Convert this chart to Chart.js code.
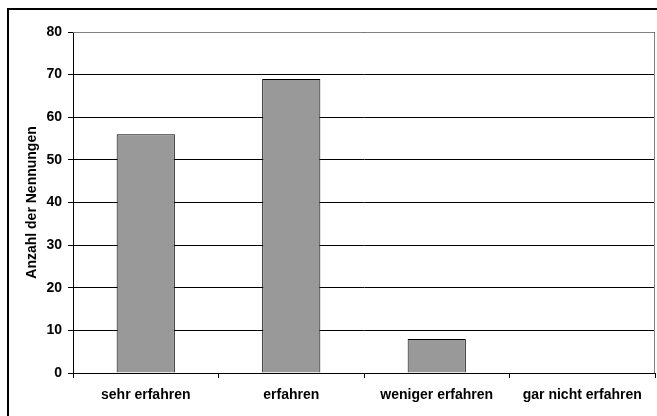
<!DOCTYPE html>
<html lang="de">
<head>
<meta charset="UTF-8">
<title>Anzahl der Nennungen</title>
<script src="https://cdn.jsdelivr.net/npm/chart.js"></script>
<style>
    html, body { margin: 0; padding: 0; background: #ffffff; overflow: hidden; }
    .frame {
        position: absolute;
        left: 7px; top: 8px;
        width: 700px; height: 460px;
        border-left: 2px solid #000;
        border-top: 2px solid #000;
        pointer-events: none;
    }
    .wrap { position: relative; width: 657px; height: 416px; }
</style>
</head>
<body>
<div class="wrap">
    <canvas id="chart" width="657" height="416"></canvas>
    <div class="frame"></div>
</div>
<script>
// Daten aus der Abbildung
const categories = ['sehr erfahren', 'erfahren', 'weniger erfahren', 'gar nicht erfahren'];
const counts = [56, 69, 8, 0];
const yTicks = [0, 10, 20, 30, 40, 50, 60, 70, 80];

const font = { family: 'Arial, "Liberation Sans", sans-serif', size: 14, weight: 'bold' };

// grauer Rahmen um die Zeichenfläche
const plotFrame = {
    id: 'plotFrame',
    beforeDatasetsDraw(chart) {
        const a = chart.chartArea, ctx = chart.ctx;
        ctx.save();
        ctx.strokeStyle = '#808080';
        ctx.lineWidth = 1;
        ctx.beginPath();
        ctx.moveTo(a.left, a.top + 0.5);
        ctx.lineTo(a.right - 0.5, a.top + 0.5);
        ctx.lineTo(a.right - 0.5, a.bottom);
        ctx.stroke();
        ctx.restore();
    }
};

new Chart(document.getElementById('chart').getContext('2d'), {
    type: 'bar',
    data: {
        labels: categories,
        datasets: [{
            data: counts,
            backgroundColor: '#999999',
            borderColor: '#000000',
            borderWidth: 1,
            barPercentage: 0.4,
            categoryPercentage: 1.0
        }]
    },
    options: {
        responsive: false,
        animation: false,
        layout: { padding: { left: 10, top: 32, right: 2, bottom: 0 } },
        plugins: {
            legend: { display: false },
            tooltip: { enabled: false }
        },
        scales: {
            x: {
                offset: true,
                grid: { display: true, offset: true, drawOnChartArea: false, color: '#000', tickLength: 5 },
                border: { color: '#000' },
                ticks: { color: '#000', font: font, padding: 9, maxRotation: 0 },
                afterFit(scale) { scale.height = 416 - 373; }
            },
            y: {
                min: 0,
                max: 80,
                afterBuildTicks(scale) { scale.ticks = yTicks.map(v => ({ value: v })); },
                grid: { color: '#000', tickLength: 5 },
                border: { color: '#000' },
                ticks: { color: '#000', font: font, padding: 6 },
                title: {
                    display: true,
                    text: 'Anzahl der Nennungen',
                    color: '#000',
                    font: font,
                    padding: { top: 14, bottom: 0 }
                },
                afterFit(scale) { scale.width = 73 - 10; }
            }
        }
    },
    plugins: [plotFrame]
});
</script>
</body>
</html>
